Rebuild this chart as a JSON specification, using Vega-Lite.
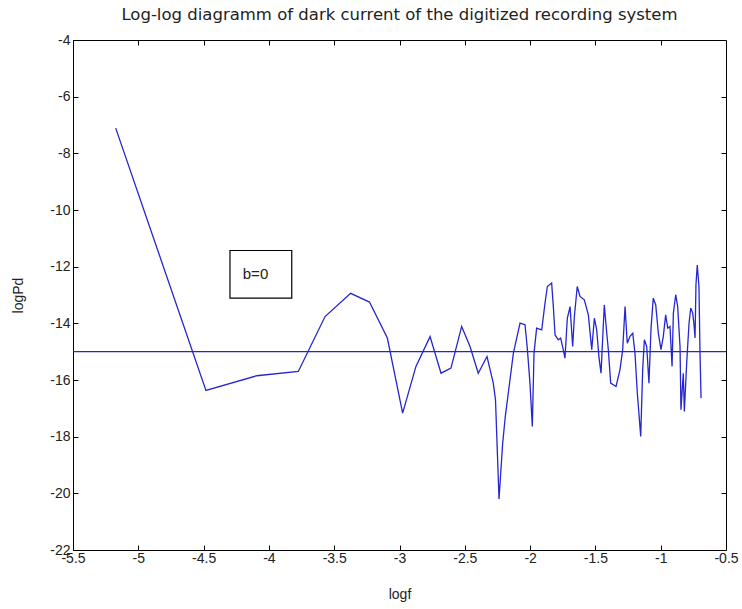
{
  "$schema": "https://vega.github.io/schema/vega-lite/v6.json",
  "autosize": {"type": "none"},
  "padding": {"left": 73, "top": 40, "right": 16, "bottom": 59},
  "width": 653,
  "height": 510,
  "background": "white",
  "config": {
    "view": {"stroke": "black", "strokeWidth": 1},
    "font": "Liberation Sans",
    "axis": {
      "grid": false,
      "domain": false,
      "tickColor": "black",
      "tickSize": -5,
      "labelFont": "Liberation Sans",
      "labelFontSize": 14,
      "labelColor": "#222",
      "labelExpr": "'' + datum.value",
      "titleFont": "Liberation Sans",
      "titleFontSize": 14,
      "titleFontWeight": "normal",
      "titleColor": "#222"
    }
  },
  "title": {
    "text": "Log-log diagramm of dark current of the digitized recording system",
    "fontSize": 16.5,
    "fontWeight": "normal",
    "font": "DejaVu Sans",
    "color": "#222",
    "offset": 10,
    "anchor": "middle"
  },
  "datasets": {
    "dc": [
      {"logf": -5.173, "logPd": -7.11},
      {"logf": -4.482, "logPd": -16.37},
      {"logf": -4.093, "logPd": -15.85},
      {"logf": -3.775, "logPd": -15.70},
      {"logf": -3.57, "logPd": -13.76},
      {"logf": -3.374, "logPd": -12.94},
      {"logf": -3.23, "logPd": -13.25},
      {"logf": -3.093, "logPd": -14.52},
      {"logf": -2.976, "logPd": -17.17},
      {"logf": -2.874, "logPd": -15.52},
      {"logf": -2.766, "logPd": -14.47},
      {"logf": -2.682, "logPd": -15.76},
      {"logf": -2.606, "logPd": -15.58},
      {"logf": -2.524, "logPd": -14.11},
      {"logf": -2.46, "logPd": -14.82},
      {"logf": -2.397, "logPd": -15.76},
      {"logf": -2.33, "logPd": -15.17},
      {"logf": -2.282, "logPd": -16.11},
      {"logf": -2.265, "logPd": -16.7},
      {"logf": -2.238, "logPd": -20.2},
      {"logf": -2.21, "logPd": -18.23},
      {"logf": -2.19, "logPd": -17.29},
      {"logf": -2.154, "logPd": -15.99},
      {"logf": -2.128, "logPd": -15.05},
      {"logf": -2.077, "logPd": -13.99},
      {"logf": -2.039, "logPd": -14.05},
      {"logf": -2.022, "logPd": -14.85},
      {"logf": -2.001, "logPd": -16.11},
      {"logf": -1.983, "logPd": -17.64},
      {"logf": -1.97, "logPd": -15.05},
      {"logf": -1.95, "logPd": -14.17},
      {"logf": -1.911, "logPd": -14.23},
      {"logf": -1.886, "logPd": -13.29},
      {"logf": -1.868, "logPd": -12.70},
      {"logf": -1.835, "logPd": -12.58},
      {"logf": -1.822, "logPd": -13.41},
      {"logf": -1.809, "logPd": -14.41},
      {"logf": -1.784, "logPd": -14.58},
      {"logf": -1.766, "logPd": -14.52},
      {"logf": -1.746, "logPd": -14.93},
      {"logf": -1.733, "logPd": -15.23},
      {"logf": -1.715, "logPd": -13.82},
      {"logf": -1.694, "logPd": -13.41},
      {"logf": -1.674, "logPd": -14.82},
      {"logf": -1.661, "logPd": -13.76},
      {"logf": -1.639, "logPd": -12.70},
      {"logf": -1.618, "logPd": -13.05},
      {"logf": -1.585, "logPd": -13.17},
      {"logf": -1.554, "logPd": -13.70},
      {"logf": -1.528, "logPd": -14.93},
      {"logf": -1.508, "logPd": -13.82},
      {"logf": -1.49, "logPd": -14.23},
      {"logf": -1.472, "logPd": -15.23},
      {"logf": -1.457, "logPd": -15.76},
      {"logf": -1.432, "logPd": -13.35},
      {"logf": -1.413, "logPd": -14.35},
      {"logf": -1.401, "logPd": -14.93},
      {"logf": -1.383, "logPd": -16.11},
      {"logf": -1.342, "logPd": -16.23},
      {"logf": -1.312, "logPd": -15.64},
      {"logf": -1.291, "logPd": -14.93},
      {"logf": -1.273, "logPd": -13.41},
      {"logf": -1.256, "logPd": -14.70},
      {"logf": -1.235, "logPd": -14.46},
      {"logf": -1.214, "logPd": -14.35},
      {"logf": -1.197, "logPd": -15.05},
      {"logf": -1.179, "logPd": -16.46},
      {"logf": -1.153, "logPd": -17.99},
      {"logf": -1.138, "logPd": -15.64},
      {"logf": -1.125, "logPd": -14.58},
      {"logf": -1.107, "logPd": -14.82},
      {"logf": -1.09, "logPd": -16.11},
      {"logf": -1.074, "logPd": -14.17},
      {"logf": -1.057, "logPd": -13.11},
      {"logf": -1.038, "logPd": -13.35},
      {"logf": -1.018, "logPd": -14.35},
      {"logf": -0.998, "logPd": -14.93},
      {"logf": -0.98, "logPd": -14.46},
      {"logf": -0.962, "logPd": -13.70},
      {"logf": -0.946, "logPd": -14.17},
      {"logf": -0.929, "logPd": -14.11},
      {"logf": -0.913, "logPd": -15.52},
      {"logf": -0.903, "logPd": -13.64},
      {"logf": -0.885, "logPd": -12.99},
      {"logf": -0.87, "logPd": -13.41},
      {"logf": -0.852, "logPd": -14.82},
      {"logf": -0.845, "logPd": -17.05},
      {"logf": -0.827, "logPd": -15.76},
      {"logf": -0.819, "logPd": -17.11},
      {"logf": -0.801, "logPd": -15.40},
      {"logf": -0.783, "logPd": -13.99},
      {"logf": -0.77, "logPd": -13.46},
      {"logf": -0.755, "logPd": -13.64},
      {"logf": -0.745, "logPd": -14.05},
      {"logf": -0.737, "logPd": -14.52},
      {"logf": -0.73, "logPd": -12.64},
      {"logf": -0.72, "logPd": -11.94},
      {"logf": -0.707, "logPd": -12.70},
      {"logf": -0.699, "logPd": -15.05},
      {"logf": -0.691, "logPd": -16.64}
    ],
    "box": [
      {"x1": -4.298, "x2": -3.825, "y1": -11.43, "y2": -13.11, "tx": -4.2, "ty": -12.27, "label": "b=0"}
    ],
    "ref": [
      {"level": -15}
    ]
  },
  "layer": [
    {
      "data": {"name": "ref"},
      "mark": {"type": "rule", "color": "#2525d2", "strokeWidth": 1.3},
      "encoding": {
        "y": {
          "field": "level", "type": "quantitative",
          "scale": {"domain": [-22, -4], "nice": false, "zero": false},
          "axis": {"orient": "right", "labels": false, "title": null, "values": [-20, -18, -16, -14, -12, -10, -8, -6]}
        }
      }
    },
    {
      "data": {"name": "dc"},
      "mark": {"type": "line", "color": "#2525d2", "strokeWidth": 1.3},
      "encoding": {
        "x": {
          "field": "logf", "type": "quantitative",
          "scale": {"domain": [-5.5, -0.5], "nice": false, "zero": false},
          "axis": {"orient": "bottom", "title": "logf", "titlePadding": 22, "labelPadding": 6, "values": [-5.5, -5, -4.5, -4, -3.5, -3, -2.5, -2, -1.5, -1, -0.5], "labelFlush": false, "labelOverlap": false}
        },
        "y": {
          "field": "logPd", "type": "quantitative",
          "scale": {"domain": [-22, -4], "nice": false, "zero": false},
          "axis": {"orient": "left", "title": "logPd", "titlePadding": 24, "labelPadding": 8, "values": [-22, -20, -18, -16, -14, -12, -10, -8, -6, -4], "labelFlush": false, "labelOverlap": false}
        }
      }
    },
    {
      "data": {"name": "box"},
      "mark": {"type": "rect", "fill": "white", "fillOpacity": 0, "stroke": "black", "strokeWidth": 1.2},
      "encoding": {
        "x": {
          "field": "x1", "type": "quantitative",
          "scale": {"domain": [-5.5, -0.5], "nice": false, "zero": false},
          "axis": {"orient": "top", "labels": false, "title": null, "values": [-5, -4.5, -4, -3.5, -3, -2.5, -2, -1.5, -1]}
        },
        "x2": {"field": "x2"},
        "y": {"field": "y1", "type": "quantitative", "axis": null},
        "y2": {"field": "y2"}
      }
    },
    {
      "data": {"name": "box"},
      "mark": {"type": "text", "align": "left", "baseline": "middle", "fontSize": 15, "font": "Liberation Sans", "color": "#222"},
      "encoding": {
        "x": {"field": "tx", "type": "quantitative", "axis": null},
        "y": {"field": "ty", "type": "quantitative", "axis": null},
        "text": {"field": "label"}
      }
    }
  ],
  "resolve": {"axis": {"x": "independent", "y": "independent"}}
}
